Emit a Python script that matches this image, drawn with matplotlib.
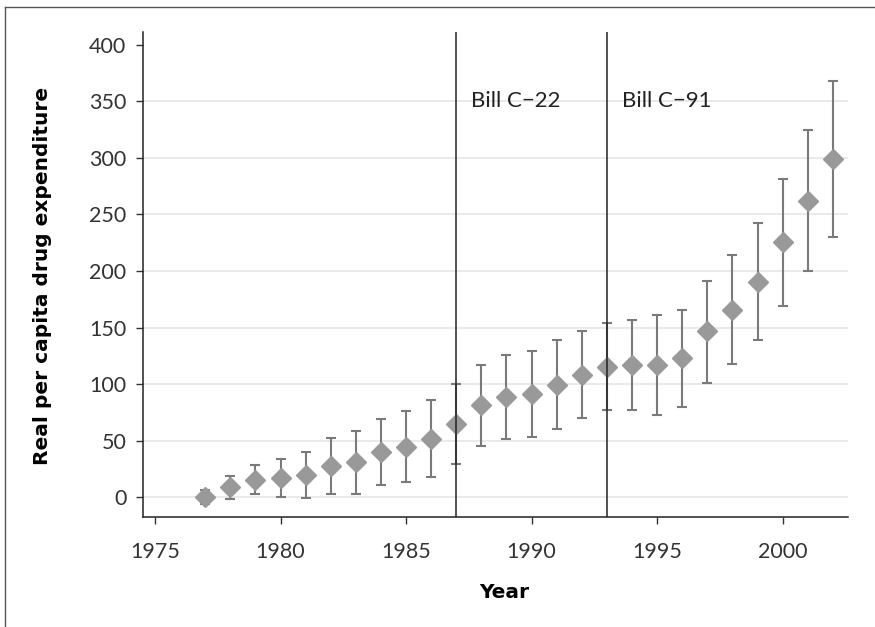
import matplotlib
matplotlib.use("Agg")
import matplotlib.pyplot as plt
from matplotlib.lines import Line2D

years = list(range(1977, 2003))
means = [0, 8.6, 15.3, 17, 19.8, 27.1, 30.7, 40, 44.4, 51.5, 64.7,
         81.2, 88.8, 91.2, 99.1, 108.2, 115.3, 116.8, 116.8, 122.6,
         146.5, 165.9, 190.3, 225.3, 262, 299.1]
upper = [6.5, 18.3, 28.6, 33.9, 40.1, 52.4, 58.8, 69.4, 75.9, 85.6, 99.7,
         117, 125.9, 129.1, 138.5, 147.1, 153.8, 156.5, 161.2, 165.6,
         191.5, 214.1, 242.4, 281.5, 324.7, 368.2]
lower = [-5.9, -1.5, 2.7, -0.3, -1.2, 2.7, 2.7, 10.6, 13.2, 17.6, 29.1,
         45.3, 51.5, 52.9, 60, 69.7, 77.1, 77.1, 72.6, 79.4,
         100.9, 117.6, 138.5, 168.8, 200, 229.7]
bills = [1987, 1993]
bill_labels = ["Bill C\u221222", "Bill C\u221291"]
yticks = list(range(0, 401, 50))
xticks = list(range(1975, 2001, 5))

tick_font = "Lato"

fig = plt.figure(figsize=(8.75, 6.27), dpi=100)
ax = fig.add_axes([0.1634, 0.1754, 0.969 - 0.1634, 0.949 - 0.1754])

for y in yticks[:-1]:
    ax.axhline(y, color="#e6e6e6", lw=1.2, zorder=0)

yerr = [[m - l for m, l in zip(means, lower)], [u - m for m, u in zip(means, upper)]]
ax.errorbar(years, means, yerr=yerr, fmt="none", ecolor="#7a7a7a",
            elinewidth=1.5, capsize=3.8, capthick=1.5, zorder=2)
ax.plot(years, means, linestyle="none", marker="D", markersize=10,
        color="#999999", markeredgecolor="#999999", zorder=3)

for b, lab in zip(bills, bill_labels):
    ax.axvline(b, color="#222222", lw=1.1, zorder=4)
    ax.text(b + 0.6, 350, lab, fontsize=16, family=tick_font,
            color="#222222", va="center", ha="left")

ax.set_xlim(1974.52, 2002.6)
ax.set_ylim(-17.7, 411.5)
ax.set_xticks(xticks)
ax.set_yticks(yticks)
ax.tick_params(axis="both", direction="out", length=5, width=1,
               color="#333333", labelcolor="#333333", labelsize=15.5)
for lbl in ax.get_xticklabels() + ax.get_yticklabels():
    lbl.set_family(tick_font)
ax.tick_params(axis="y", pad=7)
ax.tick_params(axis="x", pad=13)

for s in ["top", "right"]:
    ax.spines[s].set_visible(False)
for s in ["left", "bottom"]:
    ax.spines[s].set_color("#222222")
    ax.spines[s].set_linewidth(1.1)

ax.set_xlabel("Year", fontsize=14.5, fontweight="bold", family="DejaVu Sans")
ax.set_ylabel("Real per capita drug expenditure", fontsize=14.5,
              fontweight="bold", family="DejaVu Sans")
ax.xaxis.set_label_coords(0.512, -0.155)
ax.xaxis.label.set_va("center")
ax.yaxis.set_label_coords(-0.142, 0.497)
ax.yaxis.label.set_va("center")

# outer frame (left and top)
fig.add_artist(Line2D([5 / 875, 5 / 875], [0, 1 - 7 / 627], transform=fig.transFigure,
                      color="#555555", lw=1))
fig.add_artist(Line2D([5 / 875, 1], [1 - 7 / 627, 1 - 7 / 627], transform=fig.transFigure,
                      color="#555555", lw=1))

fig.savefig("out.png", dpi=100, facecolor="white")
